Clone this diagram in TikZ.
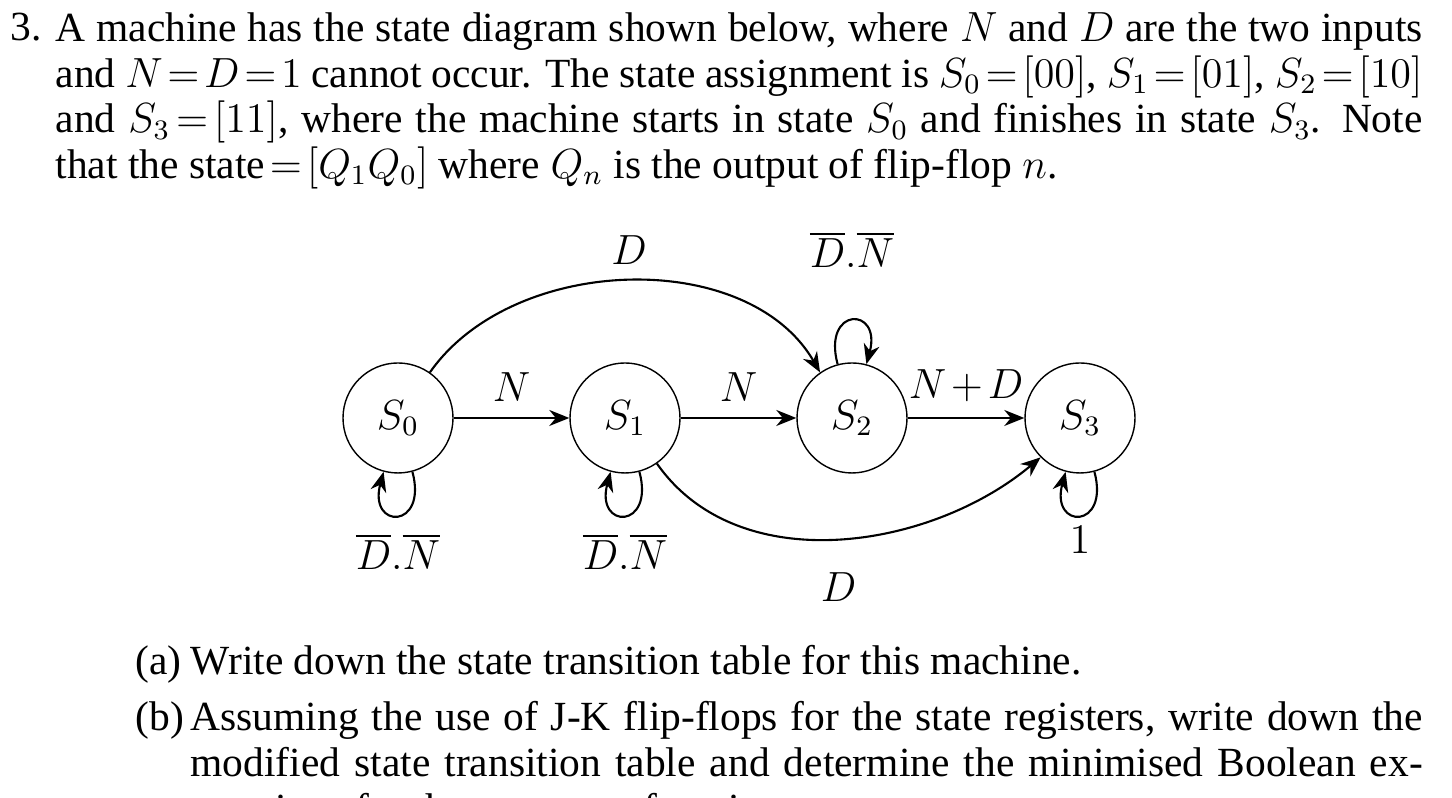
\documentclass[tikz,border=0pt]{standalone}
\usepackage{fontspec}
\setmainfont{Liberation Serif}
\usetikzlibrary{arrows.meta}
\thickmuskip=2mu plus 1mu
\medmuskip=2mu plus 1mu
\begin{document}
\begin{tikzpicture}[x=1cm,y=1cm,
  st/.style={draw,circle,minimum size=1.1cm,inner sep=0pt,font=\fontsize{12}{14}\selectfont},
  tr/.style={-{Stealth[length=2mm,width=1.6mm]},semithick},
  lbl/.style={font=\fontsize{12}{14}\selectfont},
  para/.style={anchor=north west,inner sep=0pt,align=justify,font=\fontsize{11.8}{13.0}\selectfont}]
\useasboundingbox (0,0) rectangle (14.52,7.98);
\node[para,anchor=north west] (num) at (0.1,7.86) {3.};
\node[para,text width=13.67cm] (q) at (0.55,7.86) {A machine has the state diagram shown below, where $N$ and $D$ are the two inputs and $N=D=1$ cannot occur. The state assignment is $S_0=[00]$, $S_1=[01]$, $S_2=[10]$ and $S_3=[11]$, where the machine starts in state $S_0$ and finishes in state $S_3$. Note that the state${}=[Q_1Q_0]$ where $Q_n$ is the output of flip-flop $n$.};
\node[st] (S0) at (3.98,3.80) {$S_0$};
\node[st] (S1) at (6.25,3.80) {$S_1$};
\node[st] (S2) at (8.52,3.80) {$S_2$};
\node[st] (S3) at (10.80,3.80) {$S_3$};
\draw[tr] (S0) -- node[lbl,above=1pt]{$N$} (S1);
\draw[tr] (S1) -- node[lbl,above=1pt]{$N$} (S2);
\draw[tr] (S2) -- node[lbl,above=1pt]{$N+D$} (S3);
\draw[tr] (S0.55) to[out=55,in=120,looseness=0.95] node[lbl,above=1pt]{$D$} (S2.125);
\draw[tr] (S1.-55) to[out=-55,in=-140,looseness=0.95] node[lbl,below=6pt]{$D$} (S3.-135);
\draw[tr] (S0.-75) to[out=-75,in=-105,distance=0.6cm] (S0.-105);
\draw[tr] (S1.-75) to[out=-75,in=-105,distance=0.6cm] (S1.-105);
\draw[tr] (S3.-75) to[out=-75,in=-105,distance=0.6cm] (S3.-105);
\draw[tr] (S2.105) to[out=105,in=75,distance=0.6cm] (S2.75);
\node[lbl] (l0) at (3.98,2.46) {$\overline{D}.\overline{N}$};
\node[lbl] (l1) at (6.25,2.46) {$\overline{D}.\overline{N}$};
\node[lbl] (l2) at (8.52,5.48) {$\overline{D}.\overline{N}$};
\node[lbl] (l3) at (10.80,2.58) {$1$};
\node[para] (a) at (1.35,1.53) {(a)};
\node[para] (at) at (1.90,1.53) {Write down the state transition table for this machine.};
\node[para] (b) at (1.35,0.97) {(b)};
\node[para,text width=12.32cm] (bt) at (1.90,0.97) {Assuming the use of J-K flip-flops for the state registers, write down the modified state tran\-sition table and determine the minimised Boolean expressions for the next state functions.};
\end{tikzpicture}
\end{document}
